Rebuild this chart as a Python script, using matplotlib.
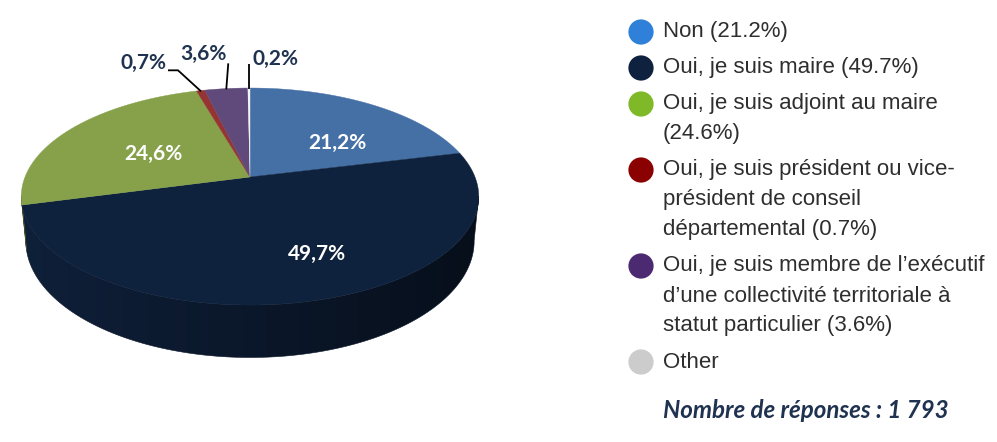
import numpy as np
import matplotlib
matplotlib.use("Agg")
import matplotlib.pyplot as plt
from matplotlib.patches import Polygon

# données
categories = ["Non", "Oui, je suis maire", "Oui, je suis adjoint au maire",
              "Oui, je suis président ou vice-président de conseil départemental",
              "Oui, je suis membre de l’exécutif d’une collectivité territoriale à statut particulier",
              "Other"]
values = [21.2, 49.7, 24.6, 0.7, 3.6, 0.2]
legend_labels = ["Non (21.2%)",
                 "Oui, je suis maire (49.7%)",
                 "Oui, je suis adjoint au maire\n(24.6%)",
                 "Oui, je suis président ou vice-\nprésident de conseil\ndépartemental (0.7%)",
                 "Oui, je suis membre de l’exécutif\nd’une collectivité territoriale à\nstatut particulier (3.6%)",
                 "Other"]
n_responses = "1 793"

# couleurs
top_colors = ["#4470A6", "#0F223D", "#87A14B", "#963433", "#5F4A7B", "#F4F4F4"]
side_colors = ["#2F4F78", "#0F203A", "#5E7134", "#6A2424", "#433457", "#CCCCCC"]
legend_colors = ["#2E80D8", "#0E2240", "#80B927", "#8B0000", "#4B2A72", "#CCCCCC"]
label_dark = "#1F3350"

# géométrie de la pizza 3D (pixels)
cx, cy = 250, 177
a, b = 225, 105
k = 0.18       # perspective
h = 43         # épaisseur
shrink = 0.98  # le fond est un peu plus petit (vue plongeante)


def proj(t_deg, r=1.0, z=0.0):
    t = np.radians(t_deg)
    u = r * np.cos(t)
    v = r * np.sin(t)
    s = 1.0 / (1.0 + k * v)
    sx = shrink if z > 0 else 1.0
    return cx + a * u * s * sx, cy - b * v * s + z * s


fig = plt.figure(figsize=(9.97, 4.42), dpi=100)
ax = fig.add_axes([0, 0, 1, 1])
ax.set_xlim(0, 997)
ax.set_ylim(442, 0)
ax.axis("off")

fracs = np.array(values) / sum(values)
ends = 90 - np.cumsum(fracs) * 360
starts = np.concatenate([[90], ends[:-1]])

# faces latérales (partie avant visible), avec dégradé horizontal
grad = np.linspace(1.0, 0.45, 256)
for i in range(len(values)):
    ts = np.linspace(ends[i], starts[i], 400)
    ts = ts[np.sin(np.radians(ts)) < -k + 0.01]
    if len(ts) < 2:
        continue
    top = [proj(t) for t in ts]
    bot = [proj(t, z=h) for t in ts[::-1]]
    poly = Polygon(top + bot, closed=True, fc="none", ec="none")
    ax.add_patch(poly)
    base = np.array(matplotlib.colors.to_rgb(side_colors[i]))
    img = np.clip(grad[None, :, None] * base[None, None, :], 0, 1)
    im = ax.imshow(img, extent=[cx - a * 1.05, cx + a * 1.05, cy + 200, cy - 50],
                   aspect="auto", interpolation="bilinear", zorder=1)
    im.set_clip_path(poly)
    # bord propre
    ax.add_patch(Polygon(top + bot, closed=True, fc="none",
                         ec=tuple(base * 0.7), lw=0.4, zorder=1.1))

# faces supérieures
for i in range(len(values)):
    ts = np.linspace(starts[i], ends[i], 200)
    pts = [proj(t) for t in ts] + [(cx, cy)]
    ax.add_patch(Polygon(pts, closed=True, fc=top_colors[i], ec=top_colors[i],
                         lw=0.3, zorder=2))
ax.set_xlim(0, 997)
ax.set_ylim(442, 0)

# étiquettes internes
pct = [f"{v:.1f}".replace(".", ",") + "%" for v in values]
nudge = {0: (10, 12), 1: (30, 9), 2: (15, 6)}
for i, (dx, dy) in nudge.items():
    mid = (starts[i] + ends[i]) / 2
    x, y = proj(mid, r=0.6)
    ax.text(x + dx, y + dy, pct[i], color="white", fontsize=15, fontweight="bold",
            family="Lato", ha="center", va="center", zorder=3)

# étiquettes externes avec lignes de rappel
ext = {3: [(-23, -21), (-33, -21)], 4: [(2, -26)], 5: [(0, -25)]}
text_pos = {3: (-35, -28, "right"), 4: (0, -35, "right"), 5: (4, -30, "left")}
for i, path in ext.items():
    mid = (starts[i] + ends[i]) / 2
    x0, y0 = proj(mid, r=0.99)
    xs = [x0] + [x0 + p[0] for p in path]
    ys = [y0] + [y0 + p[1] for p in path]
    ax.plot(xs, ys, color="black", lw=1.3, solid_capstyle="butt", zorder=3)
    dx, dy, ha = text_pos[i]
    ax.text(x0 + dx, y0 + dy, pct[i], color=label_dark, fontsize=15, fontweight="bold",
            family="Lato", ha=ha, va="center", zorder=3)

# légende
y = 32
line_h = 30
entry_gap = 36
for lab, col in zip(legend_labels, legend_colors):
    ax.scatter([641], [y], s=330, color=col, edgecolors="none", zorder=3)
    for j, line in enumerate(lab.split("\n")):
        ax.text(663, y + j * line_h, line, fontsize=16, family="Liberation Sans",
                color="#2E2E2E", va="center", ha="left", zorder=3)
    y += (lab.count("\n")) * line_h + entry_gap

ax.text(663, 411, "Nombre de réponses : " + n_responses, fontsize=17.4,
        family="Lato", fontweight="bold", fontstyle="italic", color=label_dark,
        va="center", ha="left")

fig.savefig("out.png", dpi=100)
